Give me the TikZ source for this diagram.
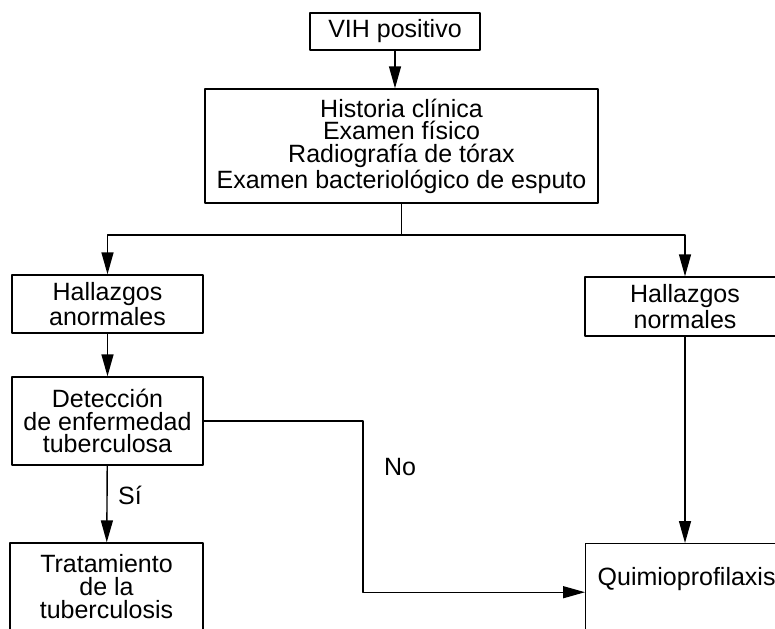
\documentclass[tikz,border=0pt]{standalone}
\usepackage{fontspec}
\setmainfont{Liberation Sans}
\usetikzlibrary{arrows.meta}

\begin{document}
\begin{tikzpicture}[line cap=round,line join=round,>={Triangle[length=11pt,width=6pt]},x=0.5pt,y=-0.5pt,
	caja/.style={draw,line width=.7pt,align=center,inner sep=0pt,font=\fontsize{12.5}{11.3}\selectfont},
	etiq/.style={font=\fontsize{12.5}{11.3}\selectfont}]
	\useasboundingbox (0,0) rectangle (775,628);
	%cajas
	\node[caja,minimum width=85pt,minimum height=18.5pt] (vih) at (395,31.5) {VIH positivo};
	\node[caja,minimum width=196.5pt,minimum height=57pt] (hist) at (401.5,146) {Historia clínica\\Examen físico\\Radiografía de tórax\\Examen bacteriológico de esputo};
	\node[caja,minimum width=95.5pt,minimum height=29pt] (anor) at (107.5,304) {Hallazgos\\anormales};
	\node[caja,minimum width=100pt,minimum height=29.5pt] (normal) at (685,306.5) {Hallazgos\\normales};
	\node[caja,minimum width=95.5pt,minimum height=44pt] (detec) at (107.5,421) {Detección\\de enfermedad\\tuberculosa};
	\node[caja,minimum width=96.5pt,minimum height=43.5pt] (trat) at (106.5,586.5) {Tratamiento\\de la\\tuberculosis};
	\node[caja,anchor=north west,align=left,text width=94pt,inner xsep=6pt,text height=21pt,text depth=27.5pt] (quimio) at (585,543) {Quimioprofilaxis};
	%puntos de paso
	\coordinate (rama) at (401.5,235);
	\coordinate (codo) at (363,0);
	%conectores
	\draw[line width=.7pt,->] (vih.south) -- (vih.south |- hist.north);
	\draw[line width=.7pt] (hist.south) -- (rama);
	\draw[line width=.7pt,->] (rama) -| (anor.north);
	\draw[line width=.7pt,->] (rama) -| (normal.north);
	\draw[line width=.7pt,->] (anor) -- (detec);
	\draw[line width=.7pt,->] (detec) -- (trat);
	\draw[line width=.7pt,->] (detec.east) -- (detec.east -| codo) -- (codo |- quimio.west) -- (quimio.west);
	\draw[line width=.7pt,->] (normal.south) -- (normal.south |- quimio.north);
	%etiquetas
	\node[etiq] (si) at (130,495) {Sí};
	\node[etiq] (no) at (400,467) {No};
\end{tikzpicture}
\end{document}
